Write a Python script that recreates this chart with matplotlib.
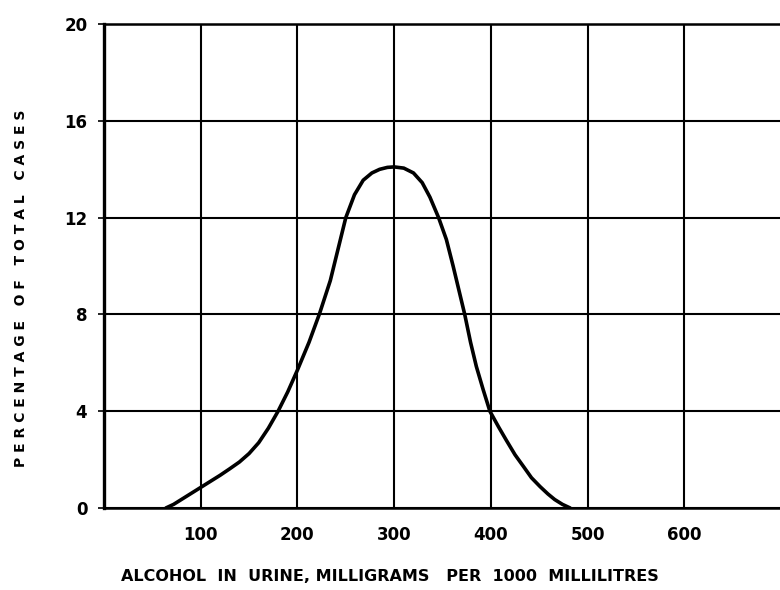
import matplotlib
matplotlib.use("Agg")
import matplotlib.pyplot as plt

# =========================================
# DATA
# =========================================
alcohol_mg = [64, 72, 80, 90, 100, 110, 120, 130, 140, 150, 160, 170, 180,
              190, 200, 212, 223, 234, 242, 250, 259, 268, 277, 285, 293,
              300, 310, 320, 329, 337, 346, 354, 361, 367, 373, 379, 385,
              392, 399, 408, 416, 425, 434, 442, 451, 459, 466, 474, 482]
pct_cases = [0.0, 0.15, 0.35, 0.6, 0.85, 1.1, 1.35, 1.62, 1.9, 2.25, 2.7,
             3.3, 4.0, 4.8, 5.7, 6.85, 8.05, 9.4, 10.7, 12.0, 12.95, 13.55,
             13.85, 14.0, 14.08, 14.1, 14.05, 13.85, 13.45, 12.85, 12.0,
             11.1, 10.0, 9.0, 8.0, 6.85, 5.85, 4.9, 4.0, 3.35, 2.8, 2.2,
             1.7, 1.25, 0.88, 0.58, 0.35, 0.15, 0.0]

x_ticks = [100, 200, 300, 400, 500, 600]
y_ticks = [0, 4, 8, 12, 16, 20]

# =========================================
# FIGURE
# =========================================
fig = plt.figure(figsize=(7.8, 5.9), dpi=100)
ax = fig.add_axes([0.1333, 0.139, 0.868, 0.820])

ax.plot(alcohol_mg, pct_cases, color="black", linewidth=2.6,
        solid_capstyle="round", solid_joinstyle="round", zorder=3)

ax.set_xlim(0, 700)
ax.set_ylim(0, 20)

ax.set_xticks(x_ticks)
ax.set_yticks(y_ticks)
ax.set_xticklabels([str(v) for v in x_ticks], fontsize=12, fontweight="bold")
ax.set_yticklabels([str(v) for v in y_ticks], fontsize=12, fontweight="bold")

ax.tick_params(axis="x", length=0, pad=13)
ax.tick_params(axis="y", length=4, width=1.2, pad=8, direction="out")

ax.grid(True, color="black", linewidth=1.5)
ax.set_axisbelow(True)

for side, spine in ax.spines.items():
    spine.set_color("black")
    spine.set_linewidth(1.8)
ax.spines["left"].set_linewidth(2.4)

ax.set_xlabel("ALCOHOL  IN  URINE, MILLIGRAMS   PER  1000  MILLILITRES",
              fontsize=11.5, fontweight="bold")
ax.xaxis.set_label_coords(0.4225, -0.127)
ax.set_ylabel("P E R C E N T A G E   O F   T O T A L   C A S E S",
              fontsize=10, fontweight="bold")
ax.yaxis.set_label_coords(-0.112, 0.455)

fig.savefig("out.png", dpi=100)
